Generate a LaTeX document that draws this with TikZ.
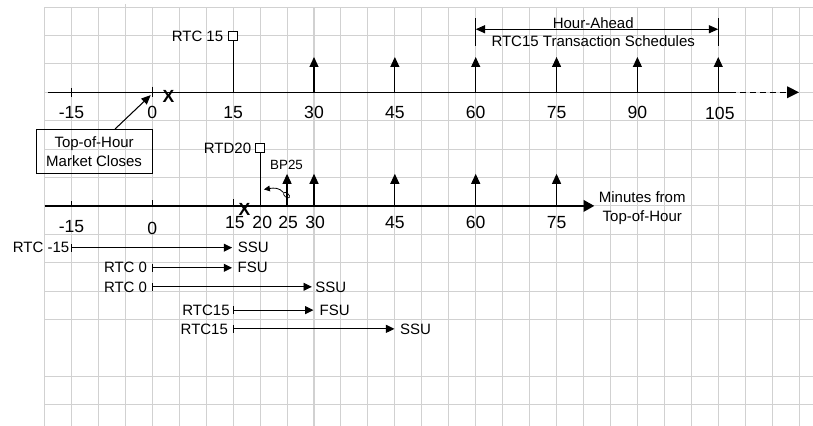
\documentclass[tikz,border=0pt]{standalone}
\usepackage{fontspec}
\setmainfont{Liberation Sans}
\usetikzlibrary{arrows.meta,shapes.geometric}
\tikzset{
  gridln/.style = {draw=black!18, line width=0.9pt},
  ax/.style     = {line width=1.2pt},
  stem/.style   = {line width=0.9pt},
  upar/.style   = {line width=1pt, -{Triangle[length=0.3cm,width=0.27cm]}},
  bar/.style    = {line width=0.8pt, {Bar[width=0.24cm]}-{Triangle[length=0.25cm,width=0.24cm]}},
  sq/.style     = {rectangle, draw, line width=0.7pt, fill=white, minimum size=0.26cm, inner sep=0},
  num/.style    = {font=\fontsize{15}{18}\selectfont, inner sep=0},
  lab/.style    = {font=\fontsize{12.8}{15}\selectfont, inner sep=0},
  small/.style  = {font=\fontsize{11.4}{13}\selectfont, inner sep=0},
  xmk/.style    = {font=\fontsize{15}{17}\selectfont\bfseries, inner sep=0}
}

\begin{document}
\begin{tikzpicture}[x=0.1617cm, y=0.852cm]
  \useasboundingbox (-28.26,-11.75) rectangle (122.58,3.25);
  % griglia di fondo
  \foreach \t in {-20,-15,...,120} \draw[gridln] (\t,3) -- (\t,-11.75);
  \draw[gridln] (-5,3) -- (-5,3.11);
  \foreach \r in {3,2,1,0,-1,-2,-3,-4,-5,-6,-7,-8,-10,-11} \draw[gridln] (-20,\r) -- (122.58,\r);

  % asse superiore (RTC)
  \coordinate (t0) at (-19.4,0); \coordinate (t1) at (107.2,0); \coordinate (t2) at (120,0);
  \draw[ax] (t0) -- (t1);
  \draw[ax, dash pattern=on 5pt off 3.5pt, -{Triangle[length=0.36cm,width=0.35cm]}] (t1) -- (t2);
  \draw[stem] (-15,0.16) -- (-15,-0.15); \draw[stem] (0,0.2) -- (0,-0.15);
  \foreach \t in {30,45,...,105} \draw[upar] (\t,0) -- (\t,1.243);
  \foreach \t in {-15,0,15,30,45,60,75,90} \node[num] at (\t,-0.72) {\t};
  \node[num] at (105.3,-0.75) {105};
  \node[xmk] (xa) at (3,-0.16) {X};

  \node[sq] (rtc) at (15,1.98) {};
  \draw[stem] (rtc.south) -- (rtc |- t0);
  \node[lab, anchor=east] at ([xshift=-0.15cm]rtc.west) {RTC 15};

  % finestra hour-ahead
  \coordinate (ha) at (60,2.22); \coordinate (hb) at (105,2.22);
  \draw[stem] (60,2.61) -- (60,1.64); \draw[stem] (105,2.61) -- (105,1.64);
  \draw[stem, {Triangle[length=0.28cm,width=0.24cm]}-{Triangle[length=0.28cm,width=0.24cm]}] (ha) -- (hb);
  \node[lab, align=center, font=\fontsize{12.8}{15.1}\selectfont] (hah) at (81.8,2.12) {Hour-Ahead\\RTC15 Transaction Schedules};

  \node[draw, line width=0.7pt, lab, align=center, font=\fontsize{12.8}{16.5}\selectfont,
        minimum width=3.49cm, minimum height=1.32cm] (moc) at (-10.8,-2.08) {Top-of-Hour\\Market Closes};
  \coordinate (mc) at (-0.3,-0.1);
  \draw[stem, -{Triangle[length=0.28cm,width=0.24cm]}] ([xshift=0.63cm]moc.north) -- (mc);

  % asse inferiore (RTD)
  \coordinate (b0) at (-20,-4); \coordinate (b1) at (82,-4);
  \draw[ax, -{Triangle[length=0.32cm,width=0.35cm]}] (b0) -- (b1);
  \draw[stem] (-15,-4) -- (-15,-3.82); \draw[stem] (0,-4) -- (0,-3.78); \draw[stem] (15,-4) -- (15,-3.74);
  \foreach \t in {25,30,45,60,75} \draw[upar] (\t,-4) -- (\t,-2.87);
  \node[num] at (-15,-4.73) {-15}; \node[num] at (0,-4.78) {0};
  \foreach \t/\p in {15/15.3,20/20.4,25/25.2,30/30.2,45/45,60/60,75/75} \node[num] at (\p,-4.57) {\t};
  \node[xmk] (xb) at (17.1,-4.12) {X};
  \node[lab, align=center, font=\fontsize{12.8}{15.7}\selectfont] (mft) at (90.9,-4.08) {Minutes from\\Top-of-Hour};

  \node[sq] (rtd) at (20,-1.96) {};
  \draw[stem] (rtd.south) -- (rtd |- b0);
  \node[lab, anchor=east] at ([xshift=-0.12cm]rtd.west) {RTD20};
  \node[small] (bp) at (24.9,-2.56) {BP25};
  \node[draw, ellipse, line width=0.6pt, minimum width=0.22cm, minimum height=0.12cm, inner sep=0, rotate=-40] (lasso) at (24.9,-3.62) {};
  \coordinate (bpt) at (20.7,-3.42);
  \draw[line width=0.7pt, -{Triangle[length=0.18cm,width=0.17cm]}] (lasso.west) .. controls (23.6,-3.36) and (22.6,-3.36) .. (bpt);

  % intervalli RTC
  \coordinate (s1) at (-15,-5.47); \coordinate (e1) at (14.8,-5.47);
  \draw[bar] (s1) -- (e1);
  \node[lab, anchor=east] at ([xshift=-0.06cm]s1) {RTC -15}; \node[lab, anchor=west] at ([xshift=0.17cm]e1) {SSU};
  \coordinate (s2) at (0,-6.18); \coordinate (e2) at (14.8,-6.18);
  \draw[bar] (s2) -- (e2);
  \node[lab, anchor=east] at ([xshift=-0.15cm]s2) {RTC 0}; \node[lab, anchor=west] at ([xshift=0.16cm]e2) {FSU};
  \coordinate (s3) at (0,-6.85); \coordinate (e3) at (29.6,-6.85);
  \draw[bar] (s3) -- (e3);
  \node[lab, anchor=east] at ([xshift=-0.15cm]s3) {RTC 0}; \node[lab, anchor=west] at ([xshift=0.1cm]e3) {SSU};
  \coordinate (s4) at (15,-7.67); \coordinate (e4) at (29.9,-7.67);
  \draw[bar] (s4) -- (e4);
  \node[lab, anchor=east] at ([xshift=-0.1cm]s4) {RTC15}; \node[lab, anchor=west] at ([xshift=0.18cm]e4) {FSU};
  \coordinate (s5) at (15,-8.33); \coordinate (e5) at (44.9,-8.33);
  \draw[bar] (s5) -- (e5);
  \node[lab, anchor=east] at ([xshift=-0.15cm]s5) {RTC15}; \node[lab, anchor=west] at ([xshift=0.17cm]e5) {SSU};
\end{tikzpicture}
\end{document}
